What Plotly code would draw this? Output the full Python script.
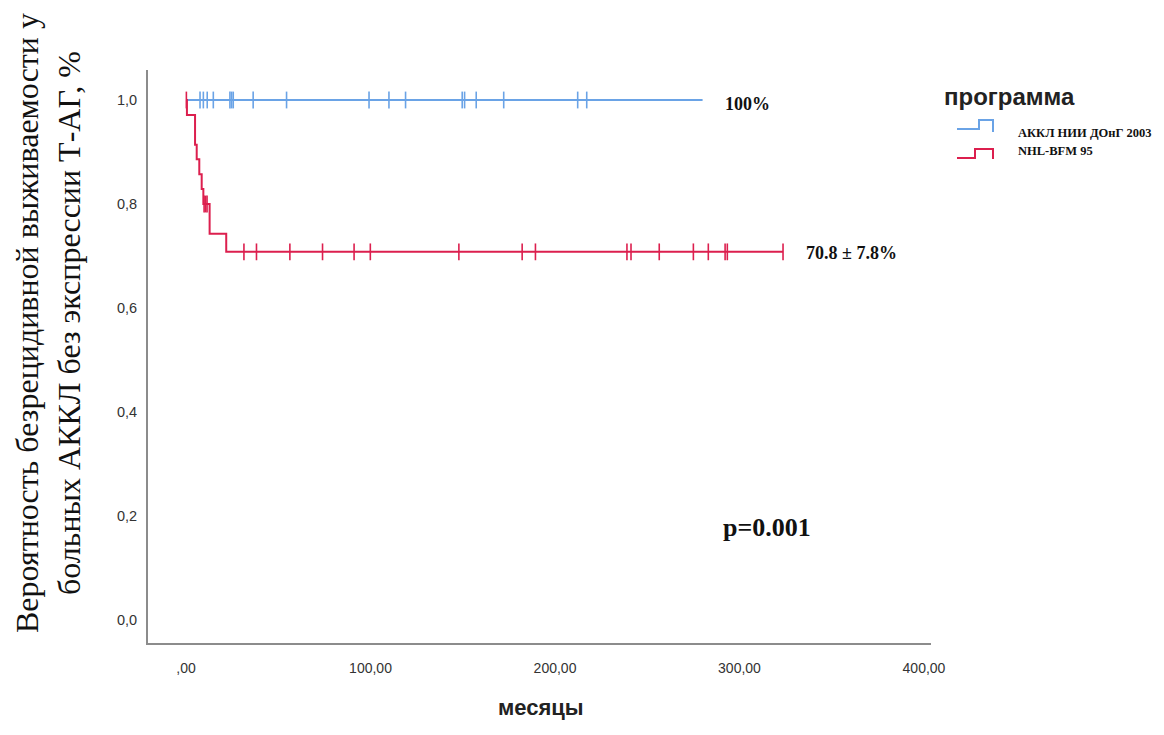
import plotly.graph_objects as go

# ---- data ----
blue_name = "АККЛ НИИ ДОнГ 2003"
red_name = "NHL-BFM 95"

blue_times = [0, 280]
blue_surv = [1.0, 1.0]
blue_censor = [7.6, 9.4, 11.5, 14.8, 23.8, 24.7, 25.6, 36.4, 54.5, 99.2, 110,
               119, 149.7, 151, 157.3, 172.2, 212.3, 217.2]

red_times = [0, 0.5, 4.9, 5.8, 7.2, 8.5, 9.4, 12.8, 21.8, 323.6]
red_surv = [1.0, 0.971, 0.914, 0.886, 0.857, 0.829, 0.80, 0.743, 0.708, 0.708]
red_censor = [0.2, 9.8, 10.6, 11.4, 31.4, 38.2, 56.3, 74, 91.1, 99.9, 147.9,
              182.2, 189.4, 239, 241.2, 256.5, 275, 283.1, 292.2, 293.4, 323.6]

x_ticks = [0, 100, 200, 300, 400]
x_ticktext = [",00", "100,00", "200,00", "300,00", "400,00"]
y_ticks = [0, 0.2, 0.4, 0.6, 0.8, 1.0]
y_ticktext = ["0,0", "0,2", "0,4", "0,6", "0,8", "1,0"]

blue = "#6aa3e6"
red = "#dc1f4e"


def interp_step(times, surv, t):
    v = surv[0]
    for ti, si in zip(times, surv):
        if ti <= t:
            v = si
    return v


fig = go.Figure()
fig.add_trace(go.Scatter(x=blue_times, y=blue_surv, mode="lines", line_shape="hv",
                         line=dict(color=blue, width=2), name=blue_name, showlegend=False))
fig.add_trace(go.Scatter(x=blue_censor, y=[interp_step(blue_times, blue_surv, t) for t in blue_censor],
                         mode="markers", marker=dict(symbol="line-ns", size=12,
                                                      line=dict(color=blue, width=1.6)),
                         showlegend=False))
fig.add_trace(go.Scatter(x=red_times, y=red_surv, mode="lines", line_shape="hv",
                         line=dict(color=red, width=2), name=red_name, showlegend=False))
fig.add_trace(go.Scatter(x=red_censor, y=[interp_step(red_times, red_surv, t) for t in red_censor],
                         mode="markers", marker=dict(symbol="line-ns", size=12,
                                                      line=dict(color=red, width=1.6)),
                         showlegend=False))

# window pixel geometry (page body has an 8px margin)
O = 8
WIN_W, WIN_H = 1164, 735
W, H = WIN_W - 2 * O, WIN_H - 2 * O
PL, PR, PT, PB = 148, 931, 70, 643  # plot box in window pixels
L, R, T, B = PL - O, W - (PR - O), PT - O, H - (PB - O)
pw, ph = PR - PL, PB - PT


def px(xp):
    return (xp - PL) / pw


def py(yp):
    return (PB - yp) / ph


serif = "Liberation Serif, Times New Roman, serif"
sans = "Liberation Sans, Arial, sans-serif"

annotations = [
    dict(text="Вероятность безрецидивной выживаемости у<br>больных АККЛ без экспрессии Т-АГ, %",
         xref="paper", yref="paper", x=px(48), y=py(323), textangle=-90,
         showarrow=False, font=dict(family=serif, size=32, color="#111"),
         xanchor="center", yanchor="middle"),
    dict(text="<b>месяцы</b>", xref="paper", yref="paper", x=px(541), y=py(707),
         showarrow=False, font=dict(family=sans, size=22, color="#222"),
         xanchor="center", yanchor="middle"),
    dict(text="<b>100%</b>", xref="x", yref="y", x=291, y=0.992, xanchor="left",
         yanchor="middle", showarrow=False, font=dict(family=serif, size=18, color="#111")),
    dict(text="<b>70.8 ± 7.8%</b>", xref="x", yref="y", x=335, y=0.706, xanchor="left",
         yanchor="middle", showarrow=False, font=dict(family=serif, size=18, color="#111")),
    dict(text="<b>p=0.001</b>", xref="x", yref="y", x=290, y=0.177, xanchor="left",
         yanchor="middle", showarrow=False, font=dict(family=serif, size=26, color="#111")),
    dict(text="<b>программа</b>", xref="paper", yref="paper", x=px(942), y=py(96),
         xanchor="left", yanchor="middle", showarrow=False,
         font=dict(family=sans, size=24, color="#222")),
    dict(text="<b>" + blue_name + "</b>", xref="paper", yref="paper", x=px(1016), y=py(133),
         xanchor="left", yanchor="middle", showarrow=False,
         font=dict(family=serif, size=12.5, color="#111")),
    dict(text="<b>" + red_name + "</b>", xref="paper", yref="paper", x=px(1016), y=py(151),
         xanchor="left", yanchor="middle", showarrow=False,
         font=dict(family=serif, size=12.5, color="#111")),
]


def step_path(x0, x1, x2, ylow, yhigh, yend):
    return (f"M {px(x0)} {py(ylow)} L {px(x1)} {py(ylow)} L {px(x1)} {py(yhigh)} "
            f"L {px(x2)} {py(yhigh)} L {px(x2)} {py(yend)}")


shapes = [
    dict(type="path", xref="paper", yref="paper",
         path=step_path(957, 979, 993, 129, 120, 132), line=dict(color=blue, width=2)),
    dict(type="path", xref="paper", yref="paper",
         path=step_path(957, 975, 993, 158, 149, 159), line=dict(color=red, width=2)),
]

fig.update_layout(
    width=W, height=H,
    margin=dict(l=L, r=R, t=T, b=B, pad=0),
    paper_bgcolor="white", plot_bgcolor="white",
    showlegend=False,
    annotations=annotations,
    shapes=shapes,
    xaxis=dict(range=[-20.6, 403.8], tickvals=x_ticks, ticktext=x_ticktext,
               showgrid=False, zeroline=False, showline=True, linecolor="#8c8c8c",
               linewidth=2, ticks="", tickfont=dict(family=sans, size=14, color="#333"),
               ticklabelstandoff=11),
    yaxis=dict(range=[-0.0442, 1.0577], tickvals=y_ticks, ticktext=y_ticktext,
               showgrid=False, zeroline=False, showline=True, linecolor="#8c8c8c",
               linewidth=2, ticks="", tickfont=dict(family=sans, size=14.5, color="#333"),
               ticklabelstandoff=6),
)

fig.write_html("out.html")
